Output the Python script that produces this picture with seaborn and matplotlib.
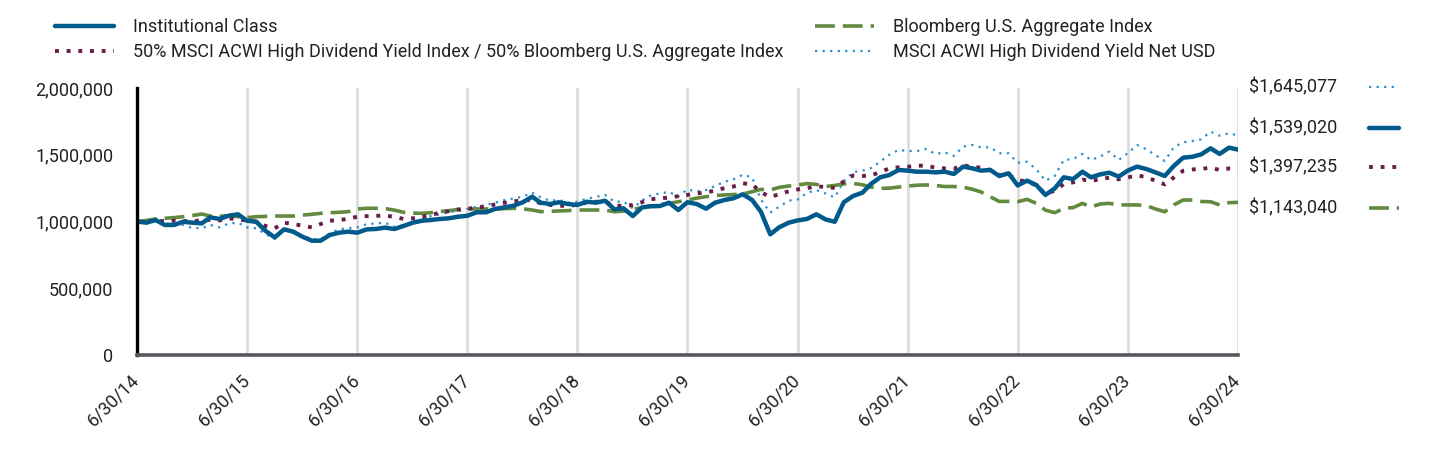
import pandas as pd
import matplotlib.pyplot as plt
import seaborn as sns
from matplotlib.lines import Line2D

# month-end values, 6/30/14 .. 6/30/24 (in thousands of $)
institutional = [
    1000, 991, 1011, 974, 974, 998, 991, 986, 1031, 1019, 1043, 1054, 1006,
    998, 929, 881, 941, 924, 886, 856, 856, 899, 916, 924, 916,
    941, 944, 954, 944, 966, 991, 1006, 1011, 1019, 1024, 1036, 1043,
    1069, 1069, 1094, 1106, 1118, 1144, 1186, 1141, 1131, 1144, 1131, 1124,
    1148, 1141, 1156, 1091, 1099, 1041, 1106, 1114, 1116, 1141, 1086, 1144,
    1131, 1096, 1141, 1161, 1174, 1204, 1161, 1073, 904, 957, 991, 1008,
    1019, 1054, 1016, 998, 1144, 1191, 1216, 1281, 1331, 1348, 1386, 1381,
    1373, 1373, 1368, 1373, 1356, 1411, 1398, 1381, 1386, 1341, 1361, 1270,
    1306, 1273, 1199, 1248, 1331, 1318, 1373, 1331, 1353, 1366, 1336, 1381,
    1411, 1393, 1368, 1341, 1416, 1478, 1485, 1503, 1548, 1506, 1553, 1539.02,
]
blend = [
    1000, 998, 1011, 1000, 1006, 1004, 1000, 1010, 1012, 1008, 1024, 1016, 1006,
    998, 966, 949, 991, 982, 968, 956, 981, 1006, 1011, 1020, 1036,
    1040, 1043, 1043, 1036, 1019, 1024, 1036, 1048, 1066, 1078, 1090, 1094,
    1106, 1112, 1128, 1140, 1150, 1161, 1161, 1136, 1124, 1118, 1118, 1124,
    1142, 1148, 1148, 1120, 1116, 1124, 1145, 1166, 1175, 1178, 1190, 1199,
    1211, 1216, 1233, 1250, 1262, 1286, 1278, 1220, 1183, 1205, 1226, 1240,
    1250, 1264, 1258, 1252, 1300, 1345, 1341, 1345, 1370, 1398, 1406, 1410,
    1418, 1418, 1403, 1398, 1396, 1420, 1410, 1403, 1386, 1348, 1348, 1310,
    1300, 1270, 1205, 1231, 1280, 1293, 1314, 1303, 1318, 1328, 1316, 1330,
    1345, 1333, 1305, 1278, 1330, 1380, 1390, 1393, 1404, 1386, 1397, 1397.235,
]
agg = [
    1000, 1008, 1019, 1024, 1029, 1036, 1045, 1056, 1041, 1040, 1043, 1036, 1029,
    1036, 1038, 1041, 1041, 1041, 1048, 1054, 1061, 1066, 1069, 1074, 1094,
    1099, 1099, 1097, 1085, 1069, 1063, 1061, 1066, 1075, 1081, 1090, 1094,
    1094, 1094, 1094, 1096, 1099, 1095, 1086, 1074, 1076, 1079, 1082, 1086,
    1086, 1086, 1086, 1073, 1078, 1090, 1105, 1116, 1125, 1136, 1148, 1161,
    1175, 1186, 1195, 1199, 1202, 1206, 1223, 1241, 1236, 1256, 1266, 1273,
    1284, 1278, 1262, 1270, 1282, 1285, 1275, 1258, 1248, 1250, 1258, 1265,
    1272, 1274, 1270, 1262, 1262, 1258, 1241, 1222, 1185, 1150, 1151, 1148,
    1166, 1136, 1085, 1066, 1099, 1104, 1136, 1109, 1131, 1136, 1124, 1124,
    1124, 1119, 1094, 1073, 1124, 1161, 1161, 1150, 1148, 1124, 1141, 1143.04,
]
msci = [
    1000, 994, 1006, 985, 980, 974, 950, 950, 974, 956, 985, 991, 956,
    949, 905, 872, 936, 924, 895, 868, 866, 912, 942, 949, 956,
    980, 986, 990, 961, 972, 996, 1020, 1040, 1054, 1070, 1080, 1094,
    1110, 1124, 1140, 1160, 1172, 1186, 1216, 1181, 1156, 1161, 1141, 1148,
    1170, 1184, 1199, 1148, 1150, 1099, 1158, 1195, 1210, 1222, 1186, 1240,
    1225, 1236, 1266, 1298, 1316, 1350, 1331, 1165, 1066, 1111, 1156, 1165,
    1214, 1236, 1210, 1180, 1300, 1370, 1380, 1400, 1448, 1500, 1536, 1528,
    1528, 1543, 1506, 1518, 1491, 1561, 1573, 1556, 1556, 1511, 1511, 1440,
    1448, 1390, 1306, 1341, 1461, 1468, 1506, 1461, 1486, 1523, 1461, 1511,
    1573, 1541, 1498, 1453, 1556, 1593, 1603, 1616, 1673, 1643, 1661, 1645.077,
]

names = [
    "Institutional Class",
    "50% MSCI ACWI High Dividend Yield Index / 50% Bloomberg U.S. Aggregate Index",
    "Bloomberg U.S. Aggregate Index",
    "MSCI ACWI High Dividend Yield Net USD",
]
end_labels = ["$1,645,077", "$1,539,020", "$1,397,235", "$1,143,040"]
tick_years = list(range(14, 25))

dates = pd.date_range("2014-06-30", "2024-06-30", freq="ME")
series = {names[0]: institutional, names[1]: blend, names[2]: agg, names[3]: msci}

c_inst = "#005a8c"
c_blend = "#6b1c48"
c_agg = "#628a3e"
c_msci = "#2a8fcc"

styles = {
    names[2]: dict(color=c_agg, lw=2.6, dashes=(5.5, 2.2)),
    names[3]: dict(color=c_msci, lw=1.6, dashes=(1, 2.4)),
    names[1]: dict(color=c_blend, lw=2.8, dashes=(1, 2)),
    names[0]: dict(color=c_inst, lw=3.2),
}

sns.set_theme(style="white")
plt.rcParams["font.family"] = ["Roboto", "DejaVu Sans"]

fig = plt.figure(figsize=(14.4, 4.68), dpi=100)
ax = fig.add_axes([137 / 1440, 1 - 355 / 468, 1101 / 1440, 267 / 468])

for name in [names[2], names[3], names[1], names[0]]:
    st = styles[name]
    df = pd.DataFrame({"date": dates, "value": [v * 1000 for v in series[name]]})
    sns.lineplot(data=df, x="date", y="value", ax=ax, color=st["color"],
                 linewidth=st["lw"], legend=False)
    l = ax.lines[-1]
    if "dashes" in st:
        l.set_dashes(st["dashes"])
        l.set_dash_capstyle("butt")
    l.set_solid_joinstyle("round")

ax.set_xlim(dates[0], dates[-1])
ax.set_ylim(0, 2000000)
ax.set_yticks([0, 500000, 1000000, 1500000, 2000000])
ax.set_yticklabels([f"{v:,}" for v in [0, 500000, 1000000, 1500000, 2000000]])
ticks = [pd.Timestamp(f"20{y}-06-30") for y in tick_years]
ax.set_xticks(ticks)
ax.set_xticklabels([f"6/30/{y}" for y in tick_years], rotation=45, ha="right",
                   va="center", rotation_mode="anchor")
ax.set_xlabel("")
ax.set_ylabel("")
ax.tick_params(axis="both", length=0, labelsize=13, colors="#222222")
ax.tick_params(axis="y", pad=17)
ax.tick_params(axis="x", pad=16)
ax.xaxis.grid(True, color="#dddddd", linewidth=2)
ax.yaxis.grid(False)
for s in ["top", "right"]:
    ax.spines[s].set_visible(False)
ax.spines["left"].set_color("black")
ax.spines["left"].set_linewidth(2.4)
ax.spines["bottom"].set_color("#54595e")
ax.spines["bottom"].set_linewidth(2.6)
ax.spines["bottom"].set_zorder(3)


def fig_line(x0, x1, y, st):
    kw = dict(color=st["color"], linewidth=st["lw"], transform=fig.transFigure)
    ln = Line2D([x0 / 1440, x1 / 1440], [1 - y / 468, 1 - y / 468], **kw)
    if "dashes" in st:
        ln.set_dashes(st["dashes"])
        ln.set_dash_capstyle("butt")
    fig.add_artist(ln)


# legend at the top
legend_items = [(55, 133, 26, names[0]), (55, 133, 51, names[1]),
                (815, 893, 26, names[2]), (815, 893, 51, names[3])]
for x0, xt, y, name in legend_items:
    fig_line(x0, x0 + 59, y, styles[name])
    fig.text(xt / 1440, 1 - (y + 1) / 468, name, fontsize=13, color="#222222",
             va="center", ha="left")

# ending values on the right
right_items = [(87, end_labels[0], names[3]), (128, end_labels[1], names[0]),
               (167, end_labels[2], names[1]), (208, end_labels[3], names[2])]
for y, txt, name in right_items:
    fig.text(1249 / 1440, 1 - y / 468, txt, fontsize=13, color="#222222",
             va="center", ha="left")
    fig_line(1369, 1399, y, styles[name])

plt.savefig("out.png", dpi=100)
